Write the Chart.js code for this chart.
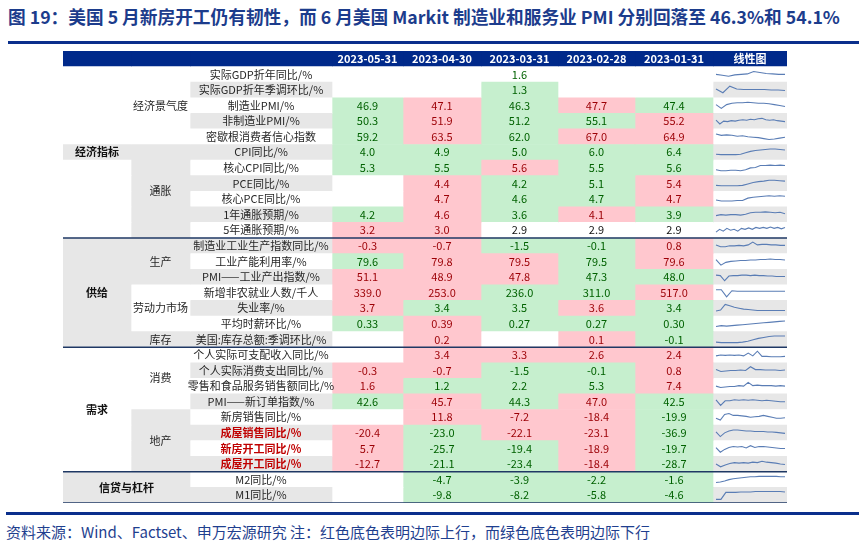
<!DOCTYPE html>
<html>
<head>
<meta charset="utf-8">
<script src="https://cdn.jsdelivr.net/npm/chart.js@4.4.1/dist/chart.umd.min.js"></script>
<style>
    body { margin: 0; width: 868px; height: 546px; background: #fff; position: relative; overflow: hidden; font-family: "Noto Sans CJK SC", sans-serif; }
    #title { position: absolute; left: 8px; top: 8px; font-size: 17.7px; line-height: 1; font-weight: bold; color: #1c3c8c; white-space: nowrap; }
    .rule { position: absolute; left: 8px; width: 851px; height: 3px; background: #0a2f8c; }
    #box { position: absolute; left: 63px; top: 51px; width: 724px; height: 452px; }
    #foot { position: absolute; left: 6px; top: 524px; font-size: 15px; line-height: 1; color: #1f3f8f; white-space: nowrap; }
</style>
</head>
<body>
<div id="title">图 19：美国 5 月新房开工仍有韧性，而 6 月美国 Markit 制造业和服务业 PMI 分别回落至 46.3%和 54.1%</div>
<div class="rule" style="top:41px"></div>
<div id="box"><canvas id="tableChart"></canvas></div>
<div class="rule" style="top:512px;left:6px;width:853px"></div>
<div id="foot">资料来源：Wind、Factset、申万宏源研究 注：红色底色表明边际上行，而绿色底色表明边际下行</div>

<script>
// Data
const dates = ['2023-05-31', '2023-04-30', '2023-03-31', '2023-02-28', '2023-01-31'];
const sparkHeader = '线性图';

const groupNames = ['经济指标', '供给', '需求', '信贷与杠杆'];
const groupStart = [0, 11, 18, 26];
const groupEnd = [10, 17, 25, 27];

const subNames = ['经济景气度', '通胀', '生产', '劳动力市场', '库存', '消费', '地产'];
const subStart = [0, 5, 11, 14, 17, 18, 22];
const subEnd = [4, 10, 13, 16, 17, 21, 25];

const indicators = [
    '实际GDP折年同比/%', '实际GDP折年季调环比/%', '制造业PMI/%', '非制造业PMI/%', '密歇根消费者信心指数',
    'CPI同比/%', '核心CPI同比/%', 'PCE同比/%', '核心PCE同比/%', '1年通胀预期/%', '5年通胀预期/%',
    '制造业工业生产指数同比/%', '工业产能利用率/%', 'PMI——工业产出指数/%', '新增非农就业人数/千人', '失业率/%', '平均时薪环比/%',
    '美国:库存总额:季调环比/%',
    '个人实际可支配收入同比/%', '个人实际消费支出同比/%', '零售和食品服务销售额同比/%', 'PMI——新订单指数/%',
    '新房销售同比/%', '成屋销售同比/%', '新房开工同比/%', '成屋开工同比/%',
    'M2同比/%', 'M1同比/%'
];
const highlightRows = [23, 24, 25];
const digits = [1,1,1,1,1,1,1,1,1,1,1,1,1,1,1,1,2,1,1,1,1,1,1,1,1,1,1,1];

const v0531 = [null, null, 46.9, 50.3, 59.2, 4.0, 5.3, null, null, 4.2, 3.2, -0.3, 79.6, 51.1, 339.0, 3.7, 0.33, null, null, -0.3, 1.6, 42.6, null, -20.4, 5.7, -12.7, null, null];
const v0430 = [null, null, 47.1, 51.9, 63.5, 4.9, 5.5, 4.4, 4.7, 4.6, 3.0, -0.7, 79.8, 48.9, 253.0, 3.4, 0.39, 0.2, 3.4, -0.7, 1.2, 45.7, 11.8, -23.0, -25.7, -21.1, -4.7, -9.8];
const v0331 = [1.6, 1.3, 46.3, 51.2, 62.0, 5.0, 5.6, 4.2, 4.6, 3.6, 2.9, -1.5, 79.5, 47.8, 236.0, 3.5, 0.27, null, 3.3, -1.5, 2.2, 44.3, -7.2, -22.1, -19.4, -23.4, -3.9, -8.2];
const v0228 = [null, null, 47.7, 55.1, 67.0, 6.0, 5.5, 5.1, 4.7, 4.1, 2.9, -0.1, 79.5, 47.3, 311.0, 3.6, 0.27, 0.1, 2.6, -0.1, 5.3, 47.0, -18.4, -23.1, -18.9, -18.4, -2.2, -5.8];
const v0131 = [null, null, 47.4, 55.2, 64.9, 6.4, 5.6, 5.4, 4.7, 3.9, 2.9, 0.8, 79.6, 48.0, 517.0, 3.4, 0.30, -0.1, 2.4, 0.8, 7.4, 42.5, -19.9, -36.9, -19.7, -28.7, -1.6, -4.6];

// r = 边际上行, g = 边际下行, w = 无底色, n = 无底色绿字
const s0531 = ['', '', 'g', 'g', 'g', 'g', 'g', '', '', 'g', 'r', 'r', 'g', 'r', 'r', 'r', 'g', '', '', 'r', 'r', 'g', '', 'r', 'r', 'r', '', ''];
const s0430 = ['', '', 'r', 'r', 'r', 'g', 'g', 'r', 'r', 'r', 'r', 'r', 'r', 'r', 'r', 'g', 'r', 'r', 'r', 'r', 'g', 'r', 'r', 'g', 'g', 'g', 'g', 'g'];
const s0331 = ['n', 'g', 'g', 'g', 'g', 'g', 'r', 'g', 'g', 'g', 'w', 'g', 'r', 'r', 'g', 'g', 'g', '', 'r', 'g', 'g', 'g', 'r', 'r', 'g', 'g', 'g', 'g'];
const s0228 = ['', '', 'r', 'g', 'r', 'g', 'g', 'g', 'g', 'r', 'w', 'g', 'g', 'g', 'g', 'r', 'g', 'r', 'r', 'g', 'g', 'r', 'r', 'r', 'r', 'r', 'g', 'g'];
const s0131 = ['', '', 'g', 'r', 'r', 'g', 'g', 'r', 'r', 'g', 'w', 'r', 'r', 'g', 'r', 'g', 'g', 'g', 'r', 'r', 'r', 'g', 'g', 'g', 'g', 'g', 'g', 'g'];

// sparkline shapes (relative level, 0 = low, 10 = high)
const spark = [
    [5, 4, 3, 4.5, 5, 5.5, 8, 7, 6, 5.5, 5, 5],
    [6, 2, 9, 6, 5.5, 5.5, 5.5, 5.5, 5, 5, 4.5],
    [6, 2, 6, 7.5, 8, 8, 8.5, 8, 7.5, 7.5, 7, 6, 5, 4],
    [6, 2, 5, 4.5, 5.5, 5, 6, 6.5, 6, 7, 6.5, 7.5, 8, 6.5, 6, 6.5, 5.5, 5, 4.5],
    [8, 6.5, 7, 6.5, 5.5, 6, 5, 4.5, 4, 3, 2, 2.5, 3.5, 4.5],
    [3, 2.5, 2.5, 2.5, 2.5, 3, 4.5, 6, 7, 7.5, 8, 8.5, 8.5, 8, 7.5],
    [3, 2, 2, 2.5, 2.5, 2, 3, 5, 5.5, 7.5, 7.5, 8, 7.5, 8, 7.5],
    [3, 2.5, 2.5, 2.5, 2.5, 3, 4.5, 6, 7, 7.5, 8.5, 8.5, 8, 7.5],
    [4, 3, 3, 3, 3.5, 3.5, 6, 7, 7.5, 8, 8.5, 8, 8.5, 8],
    [4, 5, 4.5, 5, 5, 4.5, 5.5, 7, 7.5, 7.5, 8, 7.5, 7, 7.5, 6],
    [3, 6, 4, 7, 5, 6, 4, 7, 6, 7.5, 6, 8, 7, 8, 7, 8.5, 7, 8, 6.5, 8],
    [6, 4, 4, 5, 5, 5.5, 5, 6, 9, 6, 6.5, 6.5, 6, 6, 5.5, 5.5],
    [7, 1, 4, 5, 5.5, 6, 6, 6.5, 6.5, 7, 7, 7.5, 7, 7, 6.5],
    [7, 6.5, 1, 6, 6.5, 6.5, 7, 7, 6.5, 7, 6.5, 6.5, 6, 6, 5.5, 5.5, 5.5],
    [8, 8, 0.5, 7, 6.5, 6.5, 6.5, 6.5, 6.5, 6.5, 6.5, 6.5, 6.5, 6.5],
    [2, 3, 9, 7.5, 6, 5, 4, 3.5, 3, 2.5, 2.5, 2.5, 2.5, 2.5, 2.5, 2.5],
    [2, 3, 2.5, 3, 3.5, 4, 4.5, 5, 5.5, 6, 6.5, 7, 7.5, 8],
    [2, 1.5, 1.5, 1.5, 1.5, 2, 3, 4.5, 6, 7, 8, 8.5, 8.5, 8.5],
    [4, 5, 4.5, 5, 4.5, 5, 4, 7, 4, 9, 3.5, 3.5, 3, 3, 3, 3.5],
    [6, 4, 4.5, 5, 5, 5.5, 5, 9, 6, 6, 5.5, 5.5, 5.5, 5, 5.5],
    [5, 3.5, 4, 4.5, 4.5, 5.5, 5, 9, 5.5, 6, 5.5, 5.5, 5.5, 5, 5.5, 5],
    [7, 1, 6, 6, 7, 6.5, 7, 6.5, 7, 6.5, 6, 6.5, 6, 5.5, 5, 5],
    [4, 2, 8, 9, 7, 7, 6.5, 6, 5, 5.5, 6, 7, 6, 5, 4, 4, 4.5],
    [6, 1, 5, 7, 8, 8, 7.5, 7, 7, 6.5, 6.5, 6.5, 6, 6, 5.5, 5, 4.5],
    [6, 1, 4, 6, 7, 6.5, 7, 5.5, 8, 6, 7, 7, 6.5, 6, 5.5, 5, 5],
    [5, 2, 4, 5.5, 6.5, 6, 6.5, 6, 7, 6.5, 8, 7, 6.5, 6, 5, 4.5],
    [2, 2.5, 3.5, 5, 6, 6.5, 7, 7.5, 8, 8, 8.5, 8.5, 8.5, 8.5, 8.5, 8, 8],
    [0.5, 0.5, 8, 8, 8, 8.5, 8.5, 8.5, 9, 9, 9, 9, 9, 9, 8.5]
];

// Layout (table units = px inside the canvas)
const colEdges = [0, 68, 127, 269, 340, 418, 495, 572, 650, 724];
const sparkPad = [3, 2];
const NAVY = '#00298a';
const GREY = '#e7e7e7';
const WHITE = '#ffffff';
const RED_BG = '#ffc7ce', RED_TX = '#9c0006';
const GREEN_BG = '#c6efce', GREEN_TX = '#006100';

const valueCols = [v0531, v0430, v0331, v0228, v0131];
const statusCols = [s0531, s0430, s0331, s0228, s0131];
const rowCount = indicators.length;
const rowLabels = ['hdr', ...indicators.map((_, i) => 'r' + i)];

function groupOf(i, starts, ends) {
    for (let k = 0; k < starts.length; k++) {
        if (i >= starts[k] && i <= ends[k]) return k;
    }
    return -1;
}

// shading of label blocks
const col1GreyRows = [5, 11, 12, 13, 14, 15, 16, 17, 26, 27];
const col2Grey = [false, true, true, false, true, false, true];

function col1Color(i) { return col1GreyRows.includes(i) ? GREY : WHITE; }
function col2Color(i) {
    const k = groupOf(i, subStart, subEnd);
    if (k < 0) return col1Color(i);
    return col2Grey[k] ? GREY : WHITE;
}
function nameColor(i) { return i % 2 ? GREY : WHITE; }
function cellColor(st) { return st === 'r' ? RED_BG : st === 'g' ? GREEN_BG : WHITE; }

function columnDataset(c, colorFn) {
    const colors = [NAVY];
    for (let i = 0; i < rowCount; i++) colors.push(colorFn(i));
    return {
        type: 'bar',
        data: rowLabels.map(() => [colEdges[c], colEdges[c + 1]]),
        backgroundColor: colors,
        borderWidth: 0,
        grouped: false,
        categoryPercentage: 1,
        barPercentage: 1,
        xAxisID: 'x',
        yAxisID: 'y',
        order: 2
    };
}

const datasets = [
    columnDataset(0, col1Color),
    columnDataset(1, col2Color),
    columnDataset(2, nameColor),
    ...statusCols.map((st, k) => columnDataset(3 + k, i => cellColor(st[i]))),
    columnDataset(8, nameColor)
];

spark.forEach((vals, i) => {
    const x0 = colEdges[8] + sparkPad[0];
    const x1 = colEdges[9] - sparkPad[1];
    datasets.push({
        type: 'line',
        indexAxis: 'x',
        data: vals.map((v, k) => ({ x: x0 + k * (x1 - x0) / (vals.length - 1), y: i + 1 + 0.3 - v * 0.06 })),
        borderColor: '#5a7db5',
        borderWidth: 1.1,
        pointRadius: 0,
        fill: false,
        tension: 0,
        xAxisID: 'x',
        yAxisID: 'ys',
        order: 0
    });
});

// Text + section lines
const tableText = {
    id: 'tableText',
    afterDatasetsDraw(chart) {
        const { ctx, scales: { x, y } } = chart;
        const cx = (a, b) => (x.getPixelForValue(colEdges[a]) + x.getPixelForValue(colEdges[b])) / 2;
        const cy = (r0, r1) => (y.getPixelForValue(r0 + 1) + y.getPixelForValue(r1 + 1)) / 2;
        ctx.save();
        ctx.textAlign = 'center';
        ctx.textBaseline = 'middle';

        // header
        ctx.fillStyle = '#ffffff';
        ctx.font = 'bold 11px "Noto Sans CJK SC"';
        const hy = y.getPixelForValue(0);
        dates.forEach((d, k) => ctx.fillText(d, cx(3 + k, 4 + k), hy));
        ctx.fillText(sparkHeader, cx(8, 9), hy);

        // level 1
        ctx.fillStyle = '#111';
        groupNames.forEach((g, k) => {
            const last = k === groupNames.length - 1;
            ctx.fillText(g, last ? cx(0, 2) : cx(0, 1), cy(groupStart[k], groupEnd[k]));
        });

        // level 2
        ctx.font = '11px "Noto Sans CJK SC"';
        ctx.fillStyle = '#262626';
        subNames.forEach((s, k) => ctx.fillText(s, cx(1, 2), cy(subStart[k], subEnd[k])));

        // indicators
        indicators.forEach((name, i) => {
            if (highlightRows.includes(i)) {
                ctx.font = 'bold 11px "Noto Sans CJK SC"';
                ctx.fillStyle = '#c00000';
            } else {
                ctx.font = '11px "Noto Sans CJK SC"';
                ctx.fillStyle = '#262626';
            }
            ctx.fillText(name, cx(2, 3), cy(i, i));
        });

        // values
        ctx.font = '11px "Noto Sans CJK SC"';
        valueCols.forEach((vals, k) => {
            vals.forEach((v, i) => {
                if (v === null) return;
                const st = statusCols[k][i];
                ctx.fillStyle = st === 'r' ? RED_TX : st === 'w' ? '#111' : GREEN_TX;
                ctx.fillText(v.toFixed(digits[i]), cx(3 + k, 4 + k), cy(i, i));
            });
        });

        // section lines
        ctx.strokeStyle = '#1f3864';
        ctx.lineWidth = 1.5;
        groupEnd.forEach(r => {
            const yy = y.getPixelForValue(r + 1.5);
            ctx.beginPath();
            ctx.moveTo(x.getPixelForValue(colEdges[0]), yy);
            ctx.lineTo(x.getPixelForValue(colEdges[9]), yy);
            ctx.stroke();
        });
        ctx.restore();
    }
};

new Chart(document.getElementById('tableChart'), {
    type: 'bar',
    data: { labels: rowLabels, datasets },
    options: {
        indexAxis: 'y',
        responsive: true,
        maintainAspectRatio: false,
        animation: false,
        layout: { padding: 0 },
        plugins: { legend: { display: false }, tooltip: { enabled: false } },
        scales: {
            x: { type: 'linear', min: colEdges[0], max: colEdges[9], offset: false, display: false },
            y: { type: 'category', offset: true, display: false },
            ys: { type: 'linear', axis: 'y', min: -0.5, max: rowCount + 0.5, reverse: true, offset: false, display: false }
        }
    },
    plugins: [tableText]
});
</script>
</body>
</html>
